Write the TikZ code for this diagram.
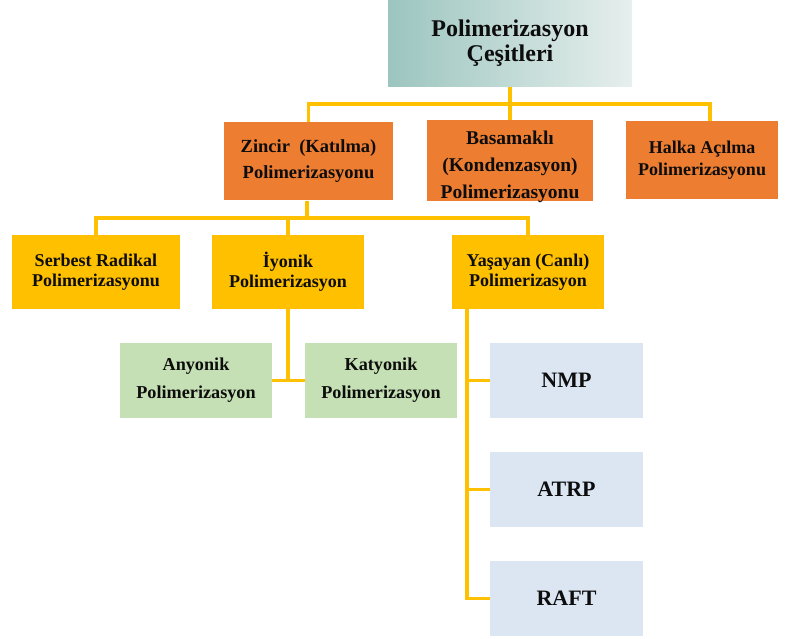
\documentclass[tikz,border=0pt]{standalone}
\usepackage{fontspec}
\setmainfont{Liberation Serif}
\definecolor{tealdark}{HTML}{9CC5BF}
\definecolor{teallight}{HTML}{E6EFED}
\definecolor{orng}{HTML}{ED7D31}
\definecolor{gold}{HTML}{FFC000}
\definecolor{lgreen}{HTML}{C5E0B4}
\definecolor{lblue}{HTML}{DCE6F3}

\begin{document}
\begin{tikzpicture}[x=1pt,y=-1pt,
	box/.style={inner sep=0pt, align=center, text=black!95},
	mainbox/.style={box, minimum width=244pt, minimum height=87pt, left color=tealdark, right color=teallight, font=\fontsize{24}{25}\selectfont\bfseries},
	orangebox/.style={box, fill=orng, minimum height=78pt, font=\fontsize{18.5}{26}\selectfont\bfseries},
	goldbox/.style={box, fill=gold, minimum width=152pt, minimum height=74pt, font=\fontsize{18}{20}\selectfont\bfseries},
	greenbox/.style={box, fill=lgreen, minimum width=152pt, minimum height=75pt, font=\fontsize{18.2}{28}\selectfont\bfseries},
	bluebox/.style={box, fill=lblue, minimum width=153pt, minimum height=75pt, font=\fontsize{22}{24}\selectfont\bfseries},
	bus/.style={draw=gold, line width=3.5pt}
	]
	\useasboundingbox (0,0) rectangle (787,639);

	\node[mainbox] (turler) at (510,43.5) {Polimerizasyon\\Çeşitleri};

	\node[orangebox, minimum width=169pt] (zincir) at (308.5,161.5) {Zincir\ \ (Katılma)\\Polimerizasyonu};
	\node[orangebox, minimum width=166pt, font=\fontsize{19.5}{27}\selectfont\bfseries] (basamakli) at (510,160.5)
		{\raisebox{-6pt}[\height][\depth]{\begin{tabular}{@{}c@{}}Basamaklı\\(Kondenzasyon)\\Polimerizasyonu\end{tabular}}};
	\node[orangebox, minimum width=152pt, font=\fontsize{18}{22}\selectfont\bfseries] (halka) at (702,160.5) {Halka Açılma\\Polimerizasyonu};

	\node[goldbox, minimum width=168pt] (serbest) at (96,272) {Serbest Radikal\\Polimerizasyonu};
	\node[goldbox] (iyonik) at (288,272) {İyonik\\Polimerizasyon};
	\node[goldbox] (yasayan) at (528,272) {Yaşayan (Canlı)\\Polimerizasyon};

	\node[greenbox] (anyonik) at (196,380.5) {Anyonik\\Polimerizasyon};
	\node[greenbox] (katyonik) at (381,380.5) {Katyonik\\Polimerizasyon};

	\node[bluebox] (nmp) at (566.5,380.5) {NMP};
	\node[bluebox] (atrp) at (566.5,489.5) {ATRP};
	\node[bluebox] (raft) at (566.5,598.5) {RAFT};

	% first level
	\draw[bus] (turler.south) -- (basamakli.north);
	\coordinate (bus1) at (510,104);
	\draw[bus] (zincir.north) |- (bus1) -| ([xshift=8pt]halka.north);

	% second level
	\coordinate (bus2) at (307,218);
	\draw[bus] ([xshift=-1.5pt]zincir.south) -- (bus2);
	\draw[bus] (serbest.north) |- (bus2) -| (yasayan.north);
	\draw[bus] (iyonik.north) -- (iyonik.north |- bus2);

	% ionic branch
	\draw[bus] (iyonik.south) -- (iyonik.south |- anyonik.east);
	\draw[bus] (anyonik.east) -- (katyonik.west);

	% living branch
	\draw[bus] ([xshift=15pt]yasayan.south west) coordinate (canli) |- (raft.west);
	\draw[bus] (canli |- nmp.west) -- (nmp.west);
	\draw[bus] (canli |- atrp.west) -- (atrp.west);
\end{tikzpicture}
\end{document}
